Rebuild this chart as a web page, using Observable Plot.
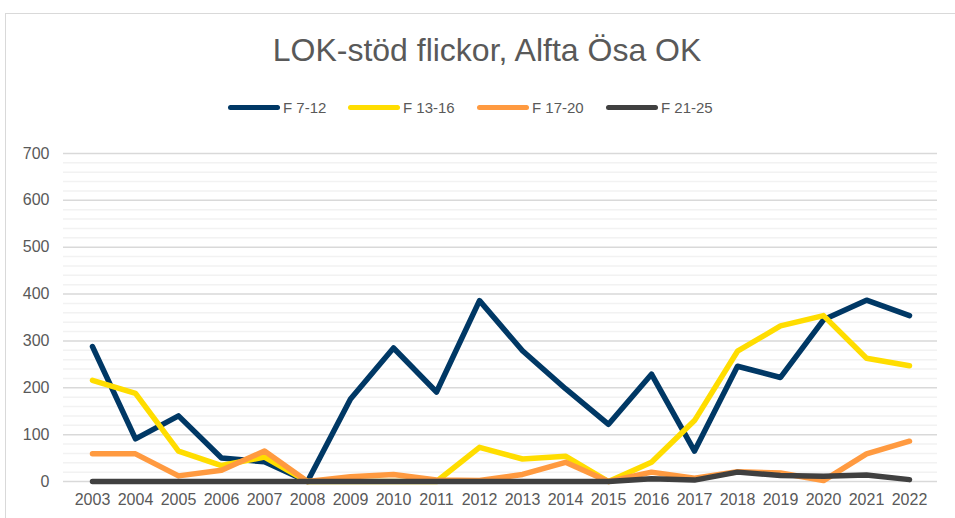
<!DOCTYPE html>
<html>
<head>
<meta charset="utf-8">
<script src="https://cdn.jsdelivr.net/npm/d3@7"></script>
<script src="https://cdn.jsdelivr.net/npm/@observablehq/plot@0.6"></script>
<style>
  html, body { margin: 0; padding: 0; background: #fff; }
  body { width: 955px; height: 518px; overflow: hidden; position: relative; font-family: "Liberation Sans", Arial, sans-serif; }
  #frame { position: absolute; left: 5px; top: 13px; width: 960px; height: 520px; border-left: 1.5px solid #D9D9D9; border-top: 1.5px solid #D9D9D9; box-sizing: border-box; }
  #title { position: absolute; left: 0; width: 974px; top: 32px; text-align: center; font-size: 32px; color: #595959; line-height: 36px; white-space: nowrap; }
  #legend { position: absolute; left: 0; top: 97px; height: 20px; width: 955px; }
  .item { position: absolute; top: 0; height: 20px; display: flex; align-items: center; font-size: 15px; color: #595959; }
  .swatch { width: 52px; height: 5px; border-radius: 3px; margin-right: 3px; }
  #chart { position: absolute; left: 0; top: 130px; }
</style>
</head>
<body>
<div id="frame"></div>
<div id="title">LOK-stöd flickor, Alfta Ösa OK</div>
<div id="legend"></div>
<div id="chart"></div>
<script>
const years = ["2003","2004","2005","2006","2007","2008","2009","2010","2011","2012","2013","2014","2015","2016","2017","2018","2019","2020","2021","2022"];
const seriesNames = ["F 7-12", "F 13-16", "F 17-20", "F 21-25"];
const seriesColors = ["#003865", "#FFDD00", "#FF9A40", "#404040"];
const f7_12  = [288, 91, 140, 50, 42, 0, 176, 285, 191, 386, 279, 198, 122, 229, 65, 246, 222, 345, 387, 354];
const f13_16 = [216, 188, 65, 34, 52, 0, 0, 0, 0, 73, 48, 54, 0, 41, 130, 278, 332, 354, 263, 247];
const f17_20 = [59, 59, 12, 24, 65, 0, 10, 15, 3, 2, 15, 41, 0, 20, 7, 21, 18, 2, 59, 86];
const f21_25 = [0, 0, 0, 0, 0, 0, 0, 0, 0, 0, 0, 0, 0, 6, 3, 20, 13, 11, 14, 4];
const yTicks = [0, 100, 200, 300, 400, 500, 600, 700];
const yMinor = d3.range(0, 701, 20).filter(v => v % 100 !== 0);

const allSeries = [f7_12, f13_16, f17_20, f21_25];
const table = [];
allSeries.forEach((vals, i) => {
  vals.forEach((v, j) => table.push({series: seriesNames[i], year: years[j], value: v}));
});

// legend
const legendX = [228, 348, 477, 606];
const legend = document.getElementById("legend");
seriesNames.forEach((name, i) => {
  const it = document.createElement("div");
  it.className = "item";
  it.style.left = legendX[i] + "px";
  const sw = document.createElement("div");
  sw.className = "swatch";
  sw.style.background = seriesColors[i];
  const tx = document.createElement("span");
  tx.textContent = name;
  it.appendChild(sw); it.appendChild(tx);
  legend.appendChild(it);
});

const chart = Plot.plot({
  width: 955,
  height: 388,
  marginLeft: 63,
  marginRight: 18,
  marginTop: 23,
  marginBottom: 37,
  style: {fontFamily: "Liberation Sans, Arial, sans-serif", fontSize: "16px", color: "#595959", background: "transparent"},
  x: {type: "point", domain: years, padding: 0.5, label: null},
  y: {domain: [0, 700], label: null},
  color: {domain: seriesNames, range: seriesColors},
  marks: [
    Plot.ruleY(yMinor, {stroke: "#F2F2F2", strokeWidth: 1.5}),
    Plot.ruleY(yTicks, {stroke: "#D9D9D9", strokeWidth: 1.5}),
    Plot.axisY({ticks: yTicks, tickSize: 0, tickPadding: 14, fontSize: 16, label: null}),
    Plot.axisX({tickSize: 0, tickPadding: 12, fontSize: 16, label: null}),
    ...seriesNames.map((name, i) => Plot.lineY(table.filter(d => d.series === name), {
      x: "year", y: "value", stroke: seriesColors[i], strokeWidth: 5.5,
      strokeLinecap: "round", strokeLinejoin: "round"
    }))
  ]
});
document.getElementById("chart").appendChild(chart);
</script>
</body>
</html>
